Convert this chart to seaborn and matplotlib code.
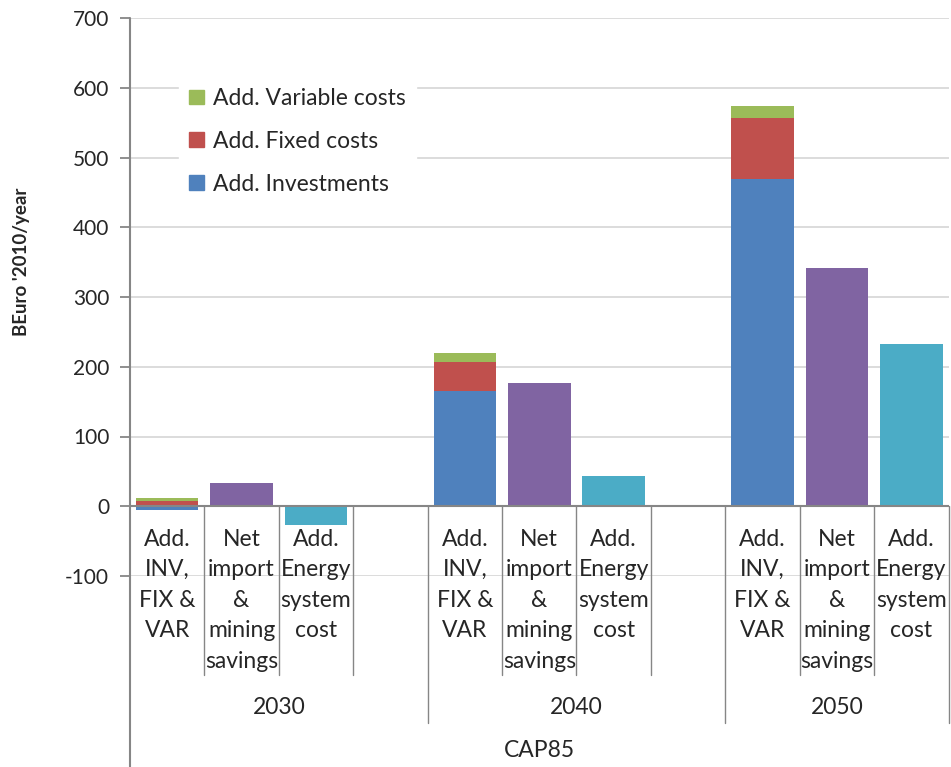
import pandas as pd
import matplotlib.pyplot as plt
import seaborn as sns
from matplotlib.patches import Patch

# Datos (BEuro 2010 / año)
años = ["2030", "2040", "2050"]
etiquetas = ["Add.\nINV,\nFIX &\nVAR",
             "Net\nimport\n&\nmining\nsavings",
             "Add.\nEnergy\nsystem\ncost"]
inversiones = [-5, 165, 469]
costes_fijos = [8, 42, 88]
costes_variables = [3.5, 13, 17]
ahorro_importaciones = [33, 177, 341]
coste_sistema = [-27, 43, 232]
leyenda = ["Add. Variable costs", "Add. Fixed costs", "Add. Investments"]
escenario = "CAP85"
marcas_y = list(range(-100, 701, 100))

AZUL, ROJO, VERDE = "#4F81BD", "#C0504D", "#9BBB59"
MORADO, CIAN = "#8064A2", "#4BACC6"
GRIS_EJE, GRIS_REJILLA = "#868686", "#D9D9D9"

sns.set_theme(style="white")
plt.rcParams["font.family"] = ["Lato", "DejaVu Sans"]
FS_CAT = 16.5

# Ranuras de categoría: 3 barras por año + hueco entre años
orden = []
for i, a in enumerate(años):
    orden += [f"{a}-0", f"{a}-1", f"{a}-2"]
    if i < len(años) - 1:
        orden.append(f"{a}-gap")

df_pila = pd.DataFrame({
    "ranura": [f"{a}-0" for a in años],
    "inv": inversiones,
    "fijo": costes_fijos,
    "var": costes_variables,
})
# Apilado: positivos hacia arriba desde 0, negativos hacia abajo
df_pila["tope_fijo"] = df_pila["inv"].clip(lower=0) + df_pila["fijo"]
df_pila["tope_var"] = df_pila["tope_fijo"] + df_pila["var"]

df_imp = pd.DataFrame({"ranura": [f"{a}-1" for a in años], "valor": ahorro_importaciones})
df_sis = pd.DataFrame({"ranura": [f"{a}-2" for a in años], "valor": coste_sistema})

W, H = 951, 767
fig = plt.figure(figsize=(W / 100, H / 100), dpi=100)
ax_l, ax_r, ax_t, ax_b = 130, 948.5, 18, 576
ax = fig.add_axes([ax_l / W, (H - ax_b) / H, (ax_r - ax_l) / W, (ax_b - ax_t) / H])

opts = dict(order=orden, width=0.84, errorbar=None, saturation=1, linewidth=0, ax=ax)
sns.barplot(data=df_pila, x="ranura", y="tope_var", color=VERDE, **opts)
sns.barplot(data=df_pila, x="ranura", y="tope_fijo", color=ROJO, **opts)
sns.barplot(data=df_pila, x="ranura", y="inv", color=AZUL, **opts)
sns.barplot(data=df_imp, x="ranura", y="valor", color=MORADO, **opts)
sns.barplot(data=df_sis, x="ranura", y="valor", color=CIAN, **opts)

ax.set_xlim(-0.5, len(orden) - 0.5)
ax.set_ylim(-100, 700)
ax.set_yticks(marcas_y)
ax.set_yticklabels([str(v) for v in marcas_y], fontsize=15)
ax.tick_params(axis="y", direction="out", length=7, width=1.3, color=GRIS_EJE, pad=8, left=True)
ax.set_xticks([])
ax.set_xlabel("")
ax.set_ylabel("")
ax.yaxis.grid(True, color=GRIS_REJILLA, lw=1.3)
ax.set_axisbelow(True)
for s in ax.spines.values():
    s.set_visible(False)

# conversión píxel vertical -> valor de datos
px_por_unidad = (ax_b - ax_t) / 800
def py(px):
    return (506 - px) / px_por_unidad

# eje de categorías en 0
ax.axhline(0, color=GRIS_EJE, lw=1.5, zorder=3)
# eje vertical izquierdo (se prolonga hasta la base)
ax.plot([-0.5, -0.5], [700, py(H + 5)], color=GRIS_EJE, lw=1.5, clip_on=False, zorder=3)

# separadores de categorías
for k in range(1, len(orden) + 1):
    x = k - 0.5
    fin_grupo = orden[k - 1].endswith("gap") or k == len(orden)
    fondo = py(723) if fin_grupo else py(675)
    ax.plot([x, x], [0, fondo], color=GRIS_EJE, lw=1.0, clip_on=False, zorder=3)

# etiquetas de categoría
for a in años:
    for j, txt in enumerate(etiquetas):
        xi = orden.index(f"{a}-{j}")
        for n, linea in enumerate(txt.split("\n")):
            ax.text(xi, py(539 + 30.5 * n), linea, ha="center", va="center",
                    fontsize=FS_CAT, clip_on=False)
    grupo = [k for k, o in enumerate(orden) if o.startswith(a)]
    ax.text((grupo[0] + grupo[-1]) / 2, py(707), a, ha="center", va="center",
            fontsize=FS_CAT, clip_on=False)

ax.text((len(orden) - 1) / 2, py(750), escenario, ha="center", va="center",
        fontsize=FS_CAT, clip_on=False)

fig.text(22 / W, 1 - 262 / H, "BEuro '2010/year", rotation=90, ha="center", va="center",
         fontsize=13.5, fontweight="bold")

manijas = [Patch(color=VERDE), Patch(color=ROJO), Patch(color=AZUL)]
leg = ax.legend(manijas, leyenda, loc="upper left", bbox_to_anchor=(0.06, 0.893),
                frameon=True, fontsize=FS_CAT, handlelength=0.62, handleheight=0.62,
                handletextpad=0.4, labelspacing=0.95, borderpad=0.45, borderaxespad=0)
leg.get_frame().set_facecolor("white")
leg.get_frame().set_edgecolor("white")
leg.get_frame().set_alpha(1)
leg.get_frame().set_boxstyle("square", pad=0)

fig.savefig("out.png", dpi=100)
